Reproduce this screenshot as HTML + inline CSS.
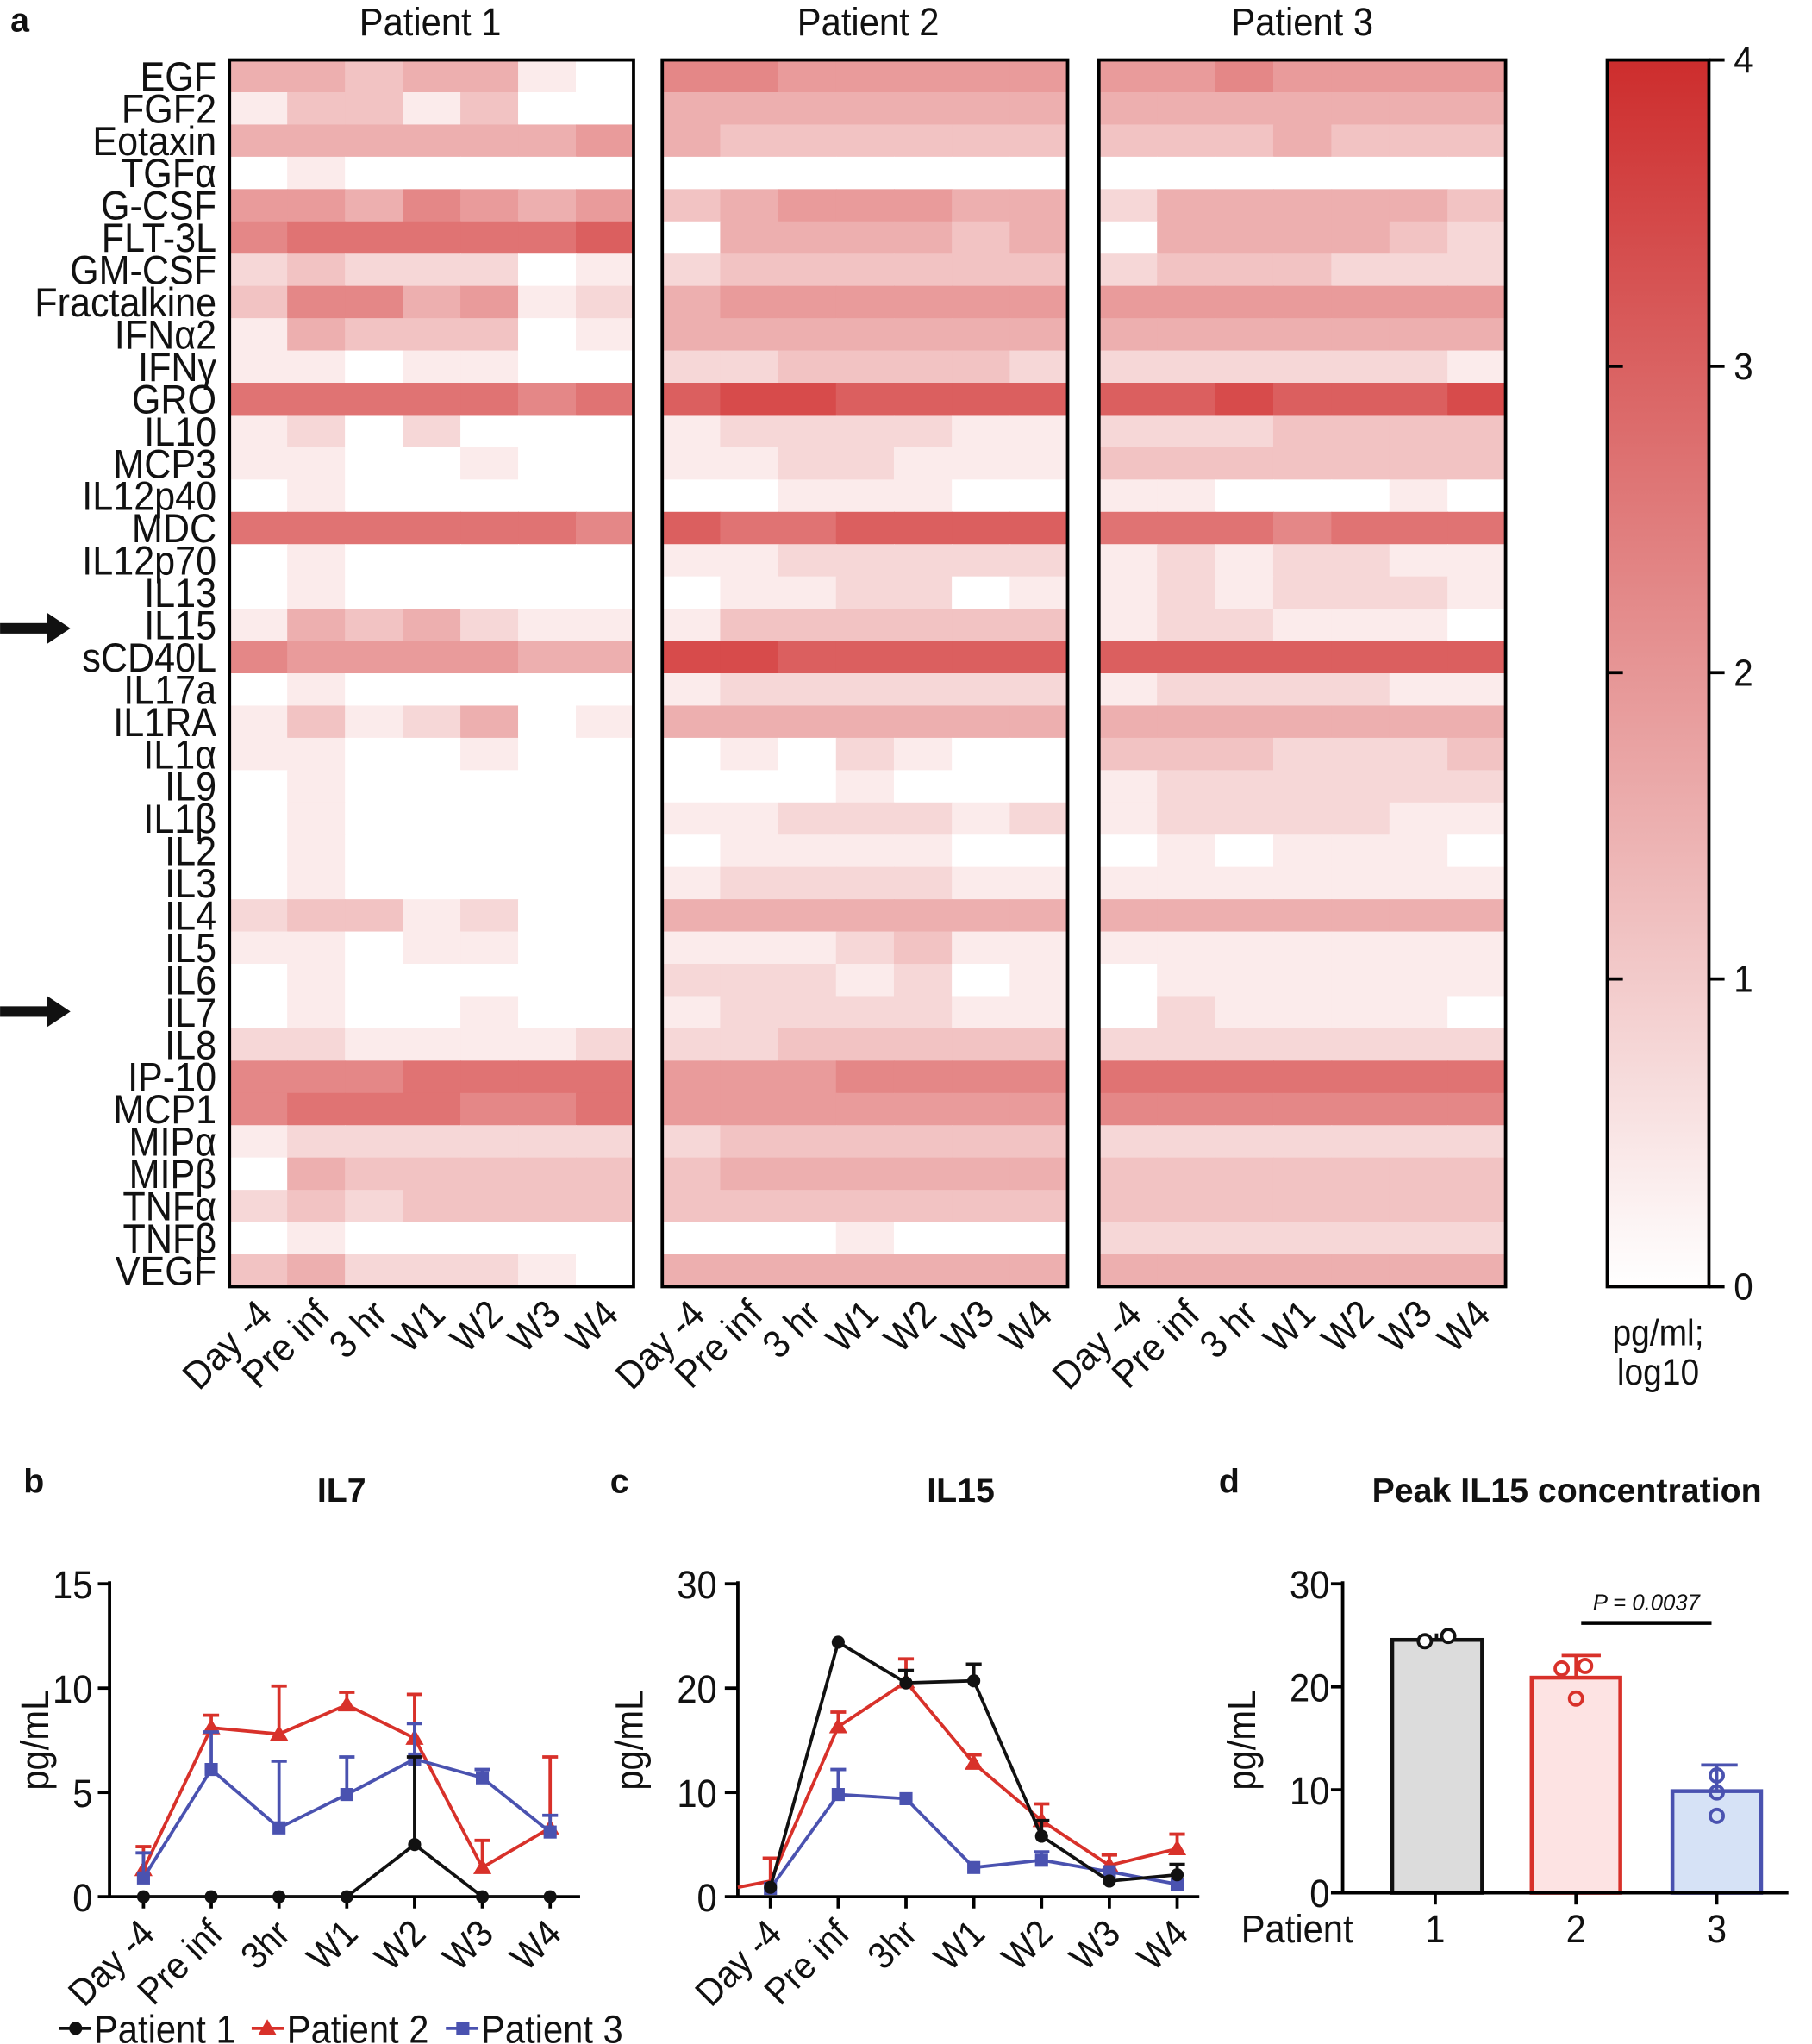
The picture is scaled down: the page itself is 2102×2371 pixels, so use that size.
<!DOCTYPE html>
<html><head><meta charset="utf-8"><style>
html,body{margin:0;padding:0;background:#fff}
svg{display:block}
text{font-family:"Liberation Sans",Arial,sans-serif;fill:#111}
</style></head><body>
<svg id="s" width="2102" height="2371" viewBox="0 0 1390 1568" xmlns="http://www.w3.org/2000/svg">
<defs>
<linearGradient id="cb" x1="0" y1="1" x2="0" y2="0"><stop offset="0" stop-color="#fff"/><stop offset="1" stop-color="rgb(205,45,45)"/></linearGradient>
</defs>
<g id="hm"></g>
<text x="8" y="24" font-size="26" font-weight="bold">a</text>
<rect x="1233" y="46" width="78" height="941" fill="url(#cb)" stroke="#000" stroke-width="2.5"/>
<g stroke="#000" stroke-width="2.5">
<line x1="1311" y1="46" x2="1323" y2="46"/><line x1="1311" y1="281" x2="1323" y2="281"/><line x1="1311" y1="516" x2="1323" y2="516"/><line x1="1311" y1="751" x2="1323" y2="751"/><line x1="1311" y1="987" x2="1323" y2="987"/>
<line x1="1233" y1="281" x2="1245" y2="281"/><line x1="1233" y1="516" x2="1245" y2="516"/><line x1="1233" y1="751" x2="1245" y2="751"/>
</g>
<g fill="#111"><rect x="0" y="478" width="38" height="8"/><polygon points="36,470 54,482 36,494"/><rect x="0" y="772" width="38" height="8"/><polygon points="36,764 54,776 36,788"/></g>

<text x="18" y="1145" font-size="26" font-weight="bold">b</text>
<text x="262" y="1152" font-size="26" font-weight="bold" text-anchor="middle">IL7</text>
<g stroke="#000" stroke-width="2.5" fill="none"><line x1="84" y1="1213" x2="84" y2="1456"/><line x1="83" y1="1455" x2="445" y2="1455"/>
<line x1="75" y1="1215" x2="84" y2="1215"/><line x1="75" y1="1295" x2="84" y2="1295"/><line x1="75" y1="1375" x2="84" y2="1375"/><line x1="75" y1="1455" x2="84" y2="1455"/></g>
<g id="pb"></g>
<text x="468" y="1145" font-size="26" font-weight="bold">c</text>
<text x="737" y="1152" font-size="26" font-weight="bold" text-anchor="middle">IL15</text>
<g stroke="#000" stroke-width="2.5"><line x1="566" y1="1213" x2="566" y2="1456"/><line x1="556" y1="1455" x2="920" y2="1455"/>
<line x1="556" y1="1215" x2="566" y2="1215"/><line x1="556" y1="1295" x2="566" y2="1295"/><line x1="556" y1="1375" x2="566" y2="1375"/></g>
<g id="pc"></g>
<text x="935" y="1145" font-size="26" font-weight="bold">d</text>
<text x="1202" y="1152" font-size="26" font-weight="bold" text-anchor="middle">Peak IL15 concentration</text>
<rect x="1068" y="1258" width="69" height="194" fill="#dcdcdc" stroke="#111" stroke-width="3"/>
<rect x="1175" y="1287" width="68" height="165" fill="#fde3e3" stroke="#d8312a" stroke-width="3"/>
<rect x="1283" y="1374" width="68" height="78" fill="#d6e2f6" stroke="#4a52b0" stroke-width="3"/>
<g stroke="#d8312a" stroke-width="2.5" fill="none"><line x1="1209" y1="1287" x2="1209" y2="1270"/><line x1="1198" y1="1270" x2="1228" y2="1270"/><circle cx="1198" cy="1280" r="5"/><circle cx="1216" cy="1278" r="5"/><circle cx="1209" cy="1303" r="5"/></g>
<g stroke="#4a52b0" stroke-width="2.5" fill="none"><line x1="1317" y1="1374" x2="1317" y2="1354"/><line x1="1305" y1="1354" x2="1333" y2="1354"/><circle cx="1317" cy="1362" r="5"/><circle cx="1317" cy="1375" r="5"/><circle cx="1317" cy="1393" r="5"/></g>
<g stroke="#111" stroke-width="2.5" fill="#fff"><line x1="1102" y1="1258" x2="1102" y2="1253"/><circle cx="1093" cy="1259" r="5"/><circle cx="1111" cy="1255" r="5"/></g>
<g stroke="#000" stroke-width="2.5"><line x1="1030" y1="1213" x2="1030" y2="1453"/><line x1="1029" y1="1452" x2="1372" y2="1452"/>
<line x1="1021" y1="1215" x2="1030" y2="1215"/><line x1="1021" y1="1294" x2="1030" y2="1294"/><line x1="1021" y1="1373" x2="1030" y2="1373"/><line x1="1021" y1="1452" x2="1030" y2="1452"/>
<line x1="1101" y1="1452" x2="1101" y2="1461"/><line x1="1209" y1="1452" x2="1209" y2="1461"/><line x1="1317" y1="1452" x2="1317" y2="1461"/>
<line x1="1213" y1="1245" x2="1313" y2="1245" stroke-width="3"/></g>
<text x="1263" y="1235" font-size="17" font-style="italic" text-anchor="middle">P = 0.0037</text>
<g stroke-width="2.5"><line x1="45" y1="1556" x2="70" y2="1556" stroke="#111"/><circle cx="58" cy="1556" r="5" fill="#111"/>
<line x1="193" y1="1556" x2="218" y2="1556" stroke="#d8312a"/><polygon points="205,1549 212,1561 198,1561" fill="#d8312a"/>
<line x1="342" y1="1556" x2="367" y2="1556" stroke="#4a52b0"/><rect x="350" y="1551" width="10" height="10" fill="#4a52b0"/></g>
<g id="tx"></g>
</svg>
<script>
var NS="http://www.w3.org/2000/svg";
function el(p,t,a,txt){var e=document.createElementNS(NS,t);for(var k in a)e.setAttribute(k,a[k]);if(txt!=null)e.textContent=txt;p.appendChild(e);return e;}
var TX=document.getElementById('tx');
function T(x,y,s,fs,anc,rot,col){el(TX,'text',{transform:'translate('+x+','+y+') rotate('+(rot||0)+') scale(0.92,1)','font-size':fs,'text-anchor':anc||'start',fill:col||'#111'},s);}
T(330,27,"Patient 1",30,'middle');T(666,27,"Patient 2",30,'middle');T(999,27,"Patient 3",30,'middle');
[["4",56],["3",291],["2",526],["1",761],["0",997]].forEach(function(a){T(1330,a[1],a[0],29);});
T(1272,1032,"pg/ml;",28,'middle');T(1272,1062,"log10",28,'middle');
var rows=["EGF","FGF2","Eotaxin","TGFα","G-CSF","FLT-3L","GM-CSF","Fractalkine","IFNα2","IFNγ","GRO","IL10","MCP3","IL12p40","MDC","IL12p70","IL13","IL15","sCD40L","IL17a","IL1RA","IL1α","IL9","IL1β","IL2","IL3","IL4","IL5","IL6","IL7","IL8","IP-10","MCP1","MIPα","MIPβ","TNFα","TNFβ","VEGF"];
var P1="4434410,1331300,4444445,0100000,5546545,6777778,2322201,3664512,1433301,1101100,7777767,1202000,1100100,0100000,7777776,0100000,0100000,1434211,6555544,0100000,1312401,1100100,0100000,0100000,0100000,0100000,2331200,1101100,0100000,0100100,2211112,6667777,6777667,1222222,0433333,2323333,0100000,3422210";
var P2="6655555,4444444,4333333,0000000,3455544,0444434,2333333,4555555,4444444,2233332,8998888,1222211,1122111,0011100,8778888,1122222,0112201,1333333,9988888,1222222,4444444,0102100,0001000,1122212,0111100,1222211,4444444,1112311,2221201,1222211,2233333,5556666,5555555,2333333,3444444,3333333,0001000,4444444";
var P3="5565555,4444444,3334333,0000000,2444443,0444432,2333222,5555555,4444444,2222221,8898889,2223333,3333333,1100010,7776777,1212211,1212221,1221110,8888888,1222211,4444444,3332223,1222222,1222211,0101110,1111111,4444444,1111111,0111111,0211110,2222222,7777777,6666666,2222222,3333333,3333333,2222222,4444444";
var hm=document.getElementById('hm'),y0=46,rh=941/38;
var panels=[[176,486,P1],[508,819,P2],[843,1155,P3]];
var cols=["Day -4","Pre inf","3 hr","W1","W2","W3","W4"];
panels.forEach(function(p){var d=p[2].split(','),cw=(p[1]-p[0])/7;
 d.forEach(function(r,i){for(var j=0;j<7;j++){var t=Math.min(1,(+r[j])/10);
  var c='rgb('+Math.round(255-45*t)+','+Math.round(255-200*t)+','+Math.round(255-200*t)+')';
  el(hm,'rect',{x:p[0]+j*cw,y:y0+i*rh,width:cw+0.6,height:rh+0.6,fill:c});}});
 el(hm,'rect',{x:p[0],y:y0,width:p[1]-p[0],height:941,fill:'none',stroke:'#000','stroke-width':2.5});
 for(var j=0;j<7;j++){var cx=p[0]+(j+0.5)*cw+12;T(cx,1010,cols[j],30,'end',-45);}
});
rows.forEach(function(n,i){T(166,y0+(i+0.5)*rh+11,n,31,'end',0,(n=="IL15"||n=="IL7")?'#d8312a':'#111');});
function chart(g,xs,y0,sc,series,labels){g=document.getElementById(g);
 xs.forEach(function(x,i){el(g,'line',{x1:x,y1:y0,x2:x,y2:y0+9,stroke:'#000','stroke-width':2.5});
  T(x+10,y0+30,labels[i],29,'end',-45);});
 series.forEach(function(s){var pts=[];var xx=s.xs||xs;
  s.v.forEach(function(v,i){var x=xx[i],y=y0-v*sc;pts.push(x+','+y);
   if(s.e&&s.e[i]){var ye=y0-(v+s.e[i])*sc;el(g,'line',{x1:x,y1:y,x2:x,y2:ye,stroke:s.c,'stroke-width':2.5});el(g,'line',{x1:x-6,y1:ye,x2:x+6,y2:ye,stroke:s.c,'stroke-width':2.5});}});
  el(g,'polyline',{points:pts.join(' '),fill:'none',stroke:s.c,'stroke-width':2.5});
  s.v.forEach(function(v,i){if(s.skip&&s.skip[i])return;var x=xx[i],y=y0-v*sc;
   if(s.m=='o')el(g,'circle',{cx:x,cy:y,r:5,fill:s.c});
   else if(s.m=='t')el(g,'polygon',{points:x+','+(y-7)+' '+(x+7)+','+(y+5)+' '+(x-7)+','+(y+5),fill:s.c});
   else el(g,'rect',{x:x-5,y:y-5,width:10,height:10,fill:s.c});});});}
var lb=["Day -4","Pre inf","3hr","W1","W2","W3","W4"];
chart('pb',[110,162,214,266,318,370,422],1455,16,[
 {c:'#d8312a',m:'t',v:[1.3,8.1,7.8,9.2,7.6,1.4,3.3],e:[1.1,0.6,2.3,0.6,2.1,1.3,3.4]},
 {c:'#4a52b0',m:'s',v:[0.9,6.1,3.3,4.9,6.6,5.7,3.1],e:[1.2,1.8,3.2,1.8,1.7,0.4,0.8]},
 {c:'#111',m:'o',v:[0,0,0,0,2.5,0,0],e:[0,0,0,0,4.2,0,0]}],lb);
chart('pc',[591,643,695,747,799,851,903],1455,8,[
 {c:'#d8312a',m:'t',xs:[566,591,643,695,747,799,851,903],v:[0.9,1.5,16.3,20.6,12.8,7.3,3,4.6],e:[0,2.2,1.4,2.2,0.8,1.6,1,1.4],skip:[1,1]},
 {c:'#4a52b0',m:'s',v:[0.8,9.8,9.4,2.8,3.5,2.4,1.2],e:[0,2.4,0,0,0.8,0,0]},
 {c:'#111',m:'o',v:[0.9,24.4,20.5,20.7,5.8,1.5,2.1],e:[0,0,1.2,1.6,1.5,0,1]}],lb);
[["15",1226],["10",1306],["5",1386],["0",1466]].forEach(function(a){T(71,a[1],a[0],30,'end');});
[["30",1226],["20",1306],["10",1386],["0",1466]].forEach(function(a){T(550,a[1],a[0],30,'end');});
[["30",1226],["20",1305],["10",1384],["0",1463]].forEach(function(a){T(1020,a[1],a[0],30,'end');});
T(37,1335,"pg/mL",30,'middle',-90);T(493,1335,"pg/mL",30,'middle',-90);T(963,1335,"pg/mL",30,'middle',-90);
T(995,1490,"Patient",30,'middle');T(1101,1490,"1",30,'middle');T(1209,1490,"2",30,'middle');T(1317,1490,"3",30,'middle');
T(72,1567,"Patient 1",30);T(220,1567,"Patient 2",30);T(369,1567,"Patient 3",30);
</script>
</body></html>
